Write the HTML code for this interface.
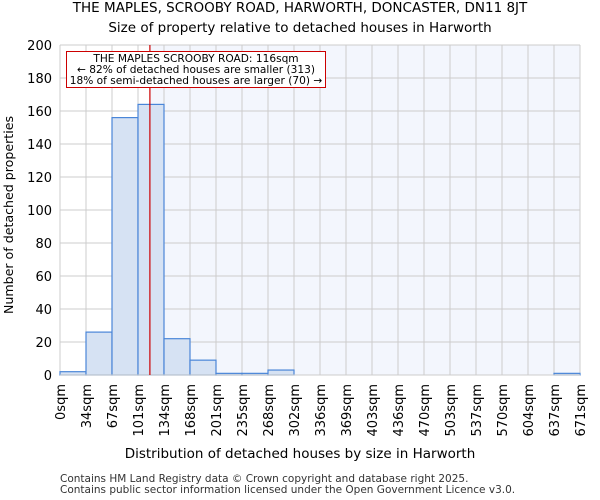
<!DOCTYPE html>
<html><head><meta charset="utf-8"><style>body{margin:0;background:#fff}svg{display:block;font-family:"DejaVu Sans","Liberation Sans",sans-serif}</style></head>
<body>
<svg id="c" width="600" height="500">
<text x="300" y="12" text-anchor="middle" font-size="13.5">THE MAPLES, SCROOBY ROAD, HARWORTH, DONCASTER, DN11 8JT</text>
<text x="300" y="32" text-anchor="middle" font-size="13.5">Size of property relative to detached houses in Harworth</text>
<g id="plot"></g>
<text x="300" y="458" text-anchor="middle" font-size="13.5">Distribution of detached houses by size in Harworth</text>
<text transform="translate(13,215) rotate(-90)" text-anchor="middle" font-size="12.6">Number of detached properties</text>
<text x="60" y="482" font-size="10.5" fill="#333">Contains HM Land Registry data © Crown copyright and database right 2025.</text>
<text x="60" y="493" font-size="10.5" fill="#333">Contains public sector information licensed under the Open Government Licence v3.0.</text>
</svg>
<script>
const tickLabels=["0sqm","34sqm","67sqm","101sqm","134sqm","168sqm","201sqm","235sqm","268sqm","302sqm","336sqm","369sqm","403sqm","436sqm","470sqm","503sqm","537sqm","570sqm","604sqm","637sqm","671sqm"];
const counts=[2,26,156,164,22,9,1,1,3,0,0,0,0,0,0,0,0,0,0,1];
const yTicks=[0,20,40,60,80,100,120,140,160,180,200];
const binMax=671, propertySize=116;
const L=60,R=580,T=45,B=375,yMax=200;
const NS="http://www.w3.org/2000/svg";
const g=document.getElementById('plot');
const bw=(R-L)/counts.length;
const xs=v=>L+v/binMax*(R-L);
const y=v=>B-v/yMax*(B-T);
function mk(t,a,p){const e=document.createElementNS(NS,t);for(const k in a)e.setAttribute(k,a[k]);(p||g).appendChild(e);return e;}
const rx=xs(propertySize);
let e=mk('rect',{x:rx,y:T,width:R-rx,height:B-T,fill:'#f3f6fd'});


yTicks.forEach(v=>{
 let l=mk('line',{x1:L,x2:R,y1:y(v),y2:y(v),stroke:'#ccc'});
 
 
 let t=mk('text',{x:L-8,y:y(v)+5,'text-anchor':'end','font-size':13});
 t.textContent=v;
 
 
});
tickLabels.forEach((s,i)=>{
 const x=L+i*bw;
 let l=mk('line',{x1:x,x2:x,y1:T,y2:B,stroke:'#ccc'});
 
 
 let t=mk('text',{transform:`translate(${x+5},384) rotate(-90)`,'text-anchor':'end','font-size':13});
 t.textContent=s;
 
 
});
counts.forEach((c,i)=>{
 let r=mk('rect',{x:L+i*bw,y:y(c),width:bw,height:B-y(c),fill:'#d6e2f3',stroke:'#4a86d8','stroke-width':1.2});
 
 
});
let ax=mk('line',{x1:L,x2:R,y1:B,y2:B,stroke:'#ccc'});


let ml=mk('line',{x1:rx,x2:rx,y1:T,y2:B,stroke:'#cc0000','stroke-width':1.2});


let box=mk('rect',{x:66.5,y:51.5,width:259,height:36,fill:'#fff',stroke:'#cc0000'});


["THE MAPLES SCROOBY ROAD: 116sqm","← 82% of detached houses are smaller (313)","18% of semi-detached houses are larger (70) →"].forEach((s,i)=>{
 let t=mk('text',{x:196,y:62+i*11,'text-anchor':'middle','font-size':10.6});
 t.textContent=s;
 
 
});
</script>
</body></html>
